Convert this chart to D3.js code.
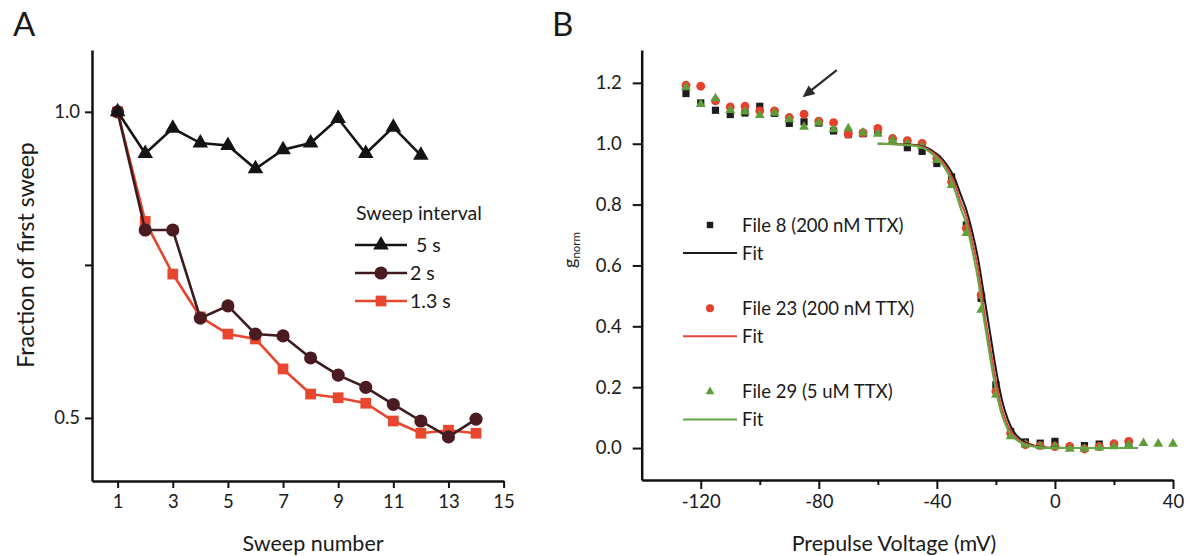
<!DOCTYPE html>
<html><head><meta charset="utf-8">
<script src="https://cdn.jsdelivr.net/npm/d3@7"></script>
<style>
body{margin:0;background:#fff}
text{font-family:Lato,"Open Sans",sans-serif;fill:#1a1a1a}
</style>
</head><body>
<svg id="c" width="1189" height="556"></svg>
<script>
// ---------- Panel A data ----------
const sweep5 = [1,2,3,4,5,6,7,8,9,10,11,12];
const frac5  = [1.0,0.932,0.973,0.949,0.945,0.907,0.938,0.949,0.989,0.932,0.975,0.929];
const sweep2 = [1,2,3,4,5,6,7,8,9,10,11,12,13,14];
const frac2  = [1.0,0.807,0.807,0.663,0.683,0.637,0.634,0.598,0.570,0.550,0.522,0.495,0.469,0.498];
const sweep13 = [1,2,3,4,5,6,7,8,9,10,11,12,13,14];
const frac13  = [1.0,0.821,0.735,0.665,0.637,0.629,0.580,0.539,0.533,0.524,0.495,0.475,0.480,0.475];
const aXTicks = [1,3,5,7,9,11,13,15];
const aYTicks = [0.5,0.75,1.0];
const aYLabels = ["0.5","","1.0"];
const aLegend = ["5 s","2 s","1.3 s"];

// ---------- Panel B data ----------
const volt = [-125,-120,-115,-110,-105,-100,-95,-90,-85,-80,-75,-70,-65,-60,-55,-50,-45,-40,-35,-30,-25,-20,-15,-10,-5,0,5,10,15,20,25,30,35,40];
const g8  = [1.165,1.134,1.110,1.096,1.101,1.123,1.100,1.067,1.072,1.068,1.042,1.030,1.033,1.042,1.010,0.987,0.975,0.935,0.891,0.733,0.492,0.208,0.054,0.020,0.016,0.022,0.003,0.008,0.013,0.010,0.010];
const g23 = [1.192,1.189,1.141,1.121,1.123,1.108,1.108,1.086,1.097,1.074,1.069,1.032,1.036,1.050,1.017,1.010,1.001,0.952,0.875,0.722,0.503,0.186,0.049,0.011,0.008,0.005,0.005,-0.003,0.005,0.014,0.022];
const g29 = [1.185,1.130,1.149,1.110,1.105,1.094,1.101,1.080,1.055,1.069,1.047,1.050,1.036,1.032,1.012,1.001,0.992,0.946,0.864,0.706,0.454,0.175,0.038,0.011,0.005,0.005,-0.003,-0.003,0.001,0.005,0.011,0.016,0.014,0.014];
const fitV   = [-60,-50,-45,-42,-40,-38,-36,-34,-32,-30,-28,-26,-24,-22,-20,-18,-16,-14,-12,-10,-7,-4,0,10,28];
const fit8   = [1.0,0.998,0.992,0.980,0.966,0.948,0.922,0.887,0.835,0.782,0.710,0.620,0.500,0.380,0.260,0.160,0.095,0.054,0.032,0.018,0.008,0.003,0.001,0,0];
const fit23  = [1.0,0.997,0.990,0.975,0.960,0.940,0.910,0.870,0.810,0.760,0.680,0.585,0.450,0.333,0.220,0.130,0.075,0.042,0.025,0.014,0.006,0.002,0,0,0];
const fit29  = [1.0,0.996,0.987,0.970,0.953,0.930,0.898,0.850,0.790,0.735,0.650,0.550,0.420,0.300,0.190,0.110,0.062,0.035,0.020,0.011,0.005,0.001,0,0,0];
const bXMajor = [-120,-80,-40,0,40];
const bXMinor = [-100,-60,-20,20];
const bYTicks = [0,0.2,0.4,0.6,0.8,1.0,1.2];
const bLegend = ["File 8 (200 nM TTX)","File 23 (200 nM TTX)","File 29 (5 uM TTX)"];
const arrowFrom = [-73.9,1.242], arrowTo = [-85.5,1.153];

const FONT = "Lato,'Open Sans',sans-serif";
const svg = d3.select("#c");
svg.append("rect").attr("width",1189).attr("height",556).attr("fill","#fff");

function styleAxis(g){
  g.select(".domain").attr("stroke","#111").attr("stroke-width",2.5);
  g.selectAll(".tick line").attr("stroke","#111").attr("stroke-width",2);
  g.selectAll(".tick text").attr("font-size",18.5).attr("fill","#1a1a1a").attr("font-family",FONT);
}

// ================= Panel A =================
const xA = d3.scaleLinear().domain([0.07,15]).range([92,503.6]);
const yA = d3.scaleLinear().domain([0.397,1.101]).range([481,50]);

svg.append("g").attr("transform","translate(0,481)")
  .call(d3.axisBottom(xA).tickValues(aXTicks).tickSize(7).tickSizeOuter(0).tickPadding(7).tickFormat(d=>String(d)))
  .call(styleAxis);
svg.append("g").attr("transform","translate(92,0)")
  .call(d3.axisLeft(yA).tickValues(aYTicks).tickSize(7).tickSizeOuter(0).tickPadding(5).tickFormat((d,i)=>aYLabels[i]))
  .call(styleAxis);

const lineA = d3.line().x(d=>xA(d[0])).y(d=>yA(d[1]));
const serA = [
  {x:sweep13,y:frac13,stroke:"#e8452f",fill:"#e8472f",sym:d3.symbolSquare,size:115},
  {x:sweep2,y:frac2,stroke:"#3d1a1e",fill:"#4a1c22",sym:d3.symbolCircle,size:135},
  {x:sweep5,y:frac5,stroke:"#141414",fill:"#141414",sym:d3.symbolTriangle,size:105}
];
serA.forEach(s=>{
  const pts = s.x.map((v,i)=>[v,s.y[i]]);
  svg.append("path").datum(pts).attr("d",lineA).attr("fill","none").attr("stroke",s.stroke).attr("stroke-width",2.6);
  svg.append("g").selectAll("path").data(pts).join("path")
    .attr("transform",d=>`translate(${xA(d[0])},${yA(d[1])})`)
    .attr("d",d3.symbol().type(s.sym).size(s.size)).attr("fill",s.fill);
});

// legend A
svg.append("text").attr("x",356).attr("y",220).attr("font-size",19.5).text("Sweep interval");
const legA = [serA[2],serA[1],serA[0]];
legA.forEach((s,i)=>{
  const y = 245 + i*28;
  svg.append("line").attr("x1",355).attr("x2",407).attr("y1",y).attr("y2",y).attr("stroke",s.stroke).attr("stroke-width",2.6);
  svg.append("path").attr("transform",`translate(381,${y})`).attr("d",d3.symbol().type(s.sym).size(s.size)).attr("fill",s.fill);
  svg.append("text").attr("x",i===0?416:410).attr("y",y+7).attr("font-size",19.5).text(aLegend[i]);
});

svg.append("text").attr("transform","translate(34,255) rotate(-90)").attr("text-anchor","middle").attr("font-size",23).text("Fraction of first sweep");
svg.append("text").attr("x",313).attr("y",551).attr("text-anchor","middle").attr("font-size",21.5).text("Sweep number");
svg.append("text").attr("x",13).attr("y",36).attr("font-size",33).text("A");

// ================= Panel B =================
const xB = d3.scaleLinear().domain([-140,40]).range([641.7,1173]);
const yB = d3.scaleLinear().domain([-0.105,1.308]).range([480,50]);

svg.append("g").attr("transform","translate(0,480)")
  .call(d3.axisBottom(xB).tickValues(bXMajor).tickSize(9).tickSizeOuter(0).tickPadding(6).tickFormat(d=>String(d)))
  .call(styleAxis);
svg.append("g").attr("transform","translate(0,480)")
  .call(d3.axisBottom(xB).tickValues(bXMinor).tickSize(5).tickSizeOuter(0).tickFormat(""))
  .call(g=>{g.select(".domain").remove(); g.selectAll(".tick line").attr("stroke","#111").attr("stroke-width",2);});
svg.append("g").attr("transform","translate(641.7,0)")
  .call(d3.axisLeft(yB).tickValues(bYTicks).tickSize(9).tickSizeOuter(0).tickPadding(11).tickFormat(d3.format(".1f")))
  .call(styleAxis);

const cols = {k:"#1c1c1c",r:"#e9402b",g:"#5e9e3a"};
const fitCols = {k:"#1a1a1a",r:"#e0463a",g:"#62a744"};
const serB = [
  {y:g8,c:cols.k,sym:d3.symbolSquare,size:52},
  {y:g23,c:cols.r,sym:d3.symbolCircle,size:62},
  {y:g29,c:cols.g,sym:d3.symbolTriangle,size:42}
];
serB.forEach(s=>{
  const pts = s.y.map((v,i)=>[volt[i],v]);
  svg.append("g").selectAll("path").data(pts).join("path")
    .attr("transform",d=>`translate(${xB(d[0])},${yB(d[1])})`)
    .attr("d",d3.symbol().type(s.sym).size(s.size)).attr("fill",s.c);
});
const lineB = d3.line().x(d=>xB(d[0])).y(d=>yB(d[1])).curve(d3.curveMonotoneX);
[[fit8,fitCols.k],[fit23,fitCols.r],[fit29,fitCols.g]].forEach(([f,c])=>{
  svg.append("path").datum(fitV.map((v,i)=>[v,f[i]])).attr("d",lineB)
    .attr("fill","none").attr("stroke",c).attr("stroke-width",2);
});

// arrow
{
  const x1=xB(arrowFrom[0]), y1=yB(arrowFrom[1]), x2=xB(arrowTo[0]), y2=yB(arrowTo[1]);
  const dx=x2-x1, dy=y2-y1, L=Math.hypot(dx,dy), ux=dx/L, uy=dy/L;
  const hl=12, hw=5.5, bx=x2-ux*hl, by=y2-uy*hl;
  svg.append("line").attr("x1",x1).attr("y1",y1).attr("x2",bx+ux*2).attr("y2",by+uy*2).attr("stroke","#2a2a2a").attr("stroke-width",2.2);
  svg.append("path").attr("d",`M${x2},${y2}L${bx-uy*hw},${by+ux*hw}L${bx+uy*hw},${by-ux*hw}Z`).attr("fill","#2a2a2a");
}

// legend B
bLegend.forEach((lab,i)=>{
  const y0 = 225 + i*83.3;
  const s = serB[i];
  svg.append("path").attr("transform",`translate(710,${y0})`).attr("d",d3.symbol().type(s.sym).size(s.size*0.8)).attr("fill",s.c);
  svg.append("text").attr("x",742).attr("y",y0+6.5).attr("font-size",18.5).text(lab);
  const yl = y0 + 28;
  svg.append("line").attr("x1",683).attr("x2",737).attr("y1",yl).attr("y2",yl).attr("stroke",[fitCols.k,fitCols.r,fitCols.g][i]).attr("stroke-width",2);
  svg.append("text").attr("x",742).attr("y",yl+6.5).attr("font-size",18.5).text("Fit");
});

// titles B
const yt = svg.append("text").attr("transform","translate(576,250) rotate(-90)").attr("text-anchor","middle").attr("font-size",18);
yt.append("tspan").text("g");
yt.append("tspan").attr("font-size",11.5).attr("dy",4).text("norm");
svg.append("text").attr("x",894).attr("y",551).attr("text-anchor","middle").attr("font-size",21.5).text("Prepulse Voltage (mV)");
svg.append("text").attr("x",552).attr("y",36).attr("font-size",33).text("B");
</script>
</body></html>
